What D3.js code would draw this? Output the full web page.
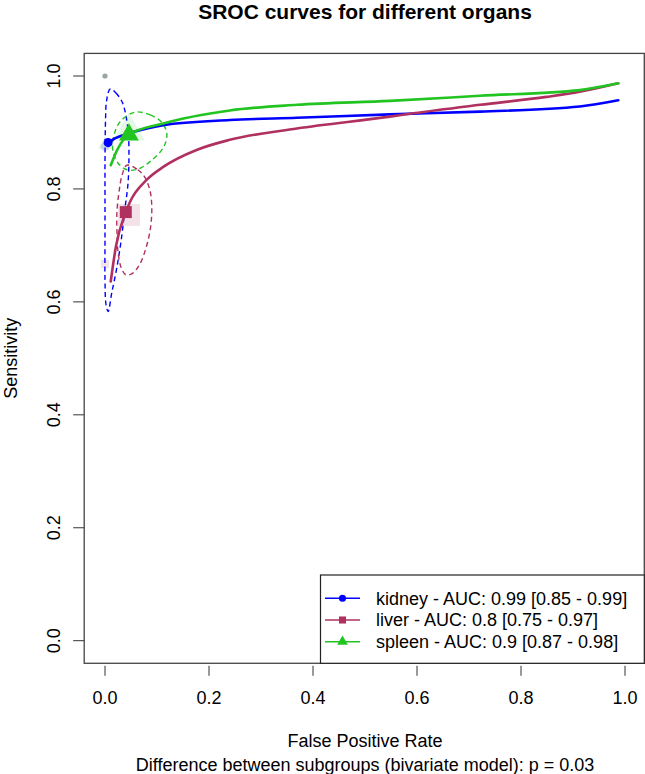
<!DOCTYPE html>
<html lang="en">
<head>
<meta charset="utf-8">
<title>SROC curves for different organs</title>
<script src="https://d3js.org/d3.v7.min.js"></script>
<style>
  body { margin: 0; background: #fff; }
  text { font-family: "Liberation Sans", Arial, Helvetica, sans-serif; fill: #000; }
</style>
</head>
<body>
<script>
// ---- data ----
var xTicks = [0, 0.2, 0.4, 0.6, 0.8, 1.0];
var yTicks = [0, 0.2, 0.4, 0.6, 0.8, 1.0];

var groups = ["kidney", "liver", "spleen"];
var aucLabels = [
  "kidney - AUC: 0.99 [0.85 - 0.99]",
  "liver - AUC: 0.8 [0.75 - 0.97]",
  "spleen - AUC: 0.9 [0.87 - 0.98]"
];

// SROC curves [fpr, sens]
var kidneyCurve = [[0.006, 0.882], [0.02, 0.890], [0.048, 0.899], [0.112, 0.913], [0.240, 0.922],
  [0.369, 0.926], [0.548, 0.932], [0.721, 0.937], [0.913, 0.946], [0.987, 0.957]];
var liverCurve = [[0.011, 0.636], [0.021, 0.698], [0.040, 0.759], [0.048, 0.777], [0.080, 0.816],
  [0.112, 0.839], [0.176, 0.869], [0.240, 0.887], [0.369, 0.907], [0.548, 0.928], [0.593, 0.934],
  [0.721, 0.949], [0.849, 0.963], [0.913, 0.972], [0.987, 0.987]];
var spleenCurve = [[0.011, 0.842], [0.025, 0.872], [0.046, 0.896], [0.112, 0.916], [0.240, 0.939],
  [0.369, 0.949], [0.548, 0.956], [0.721, 0.965], [0.913, 0.975], [0.987, 0.987]];

// summary points
var summaryPts = [[0.006, 0.882], [0.040, 0.759], [0.046, 0.896]];

// confidence regions (dashed)
var kidneyRegion = [[0.010, 0.977], [0.021, 0.970], [0.033, 0.954], [0.040, 0.931], [0.045, 0.896],
  [0.046, 0.851], [0.044, 0.807], [0.038, 0.763], [0.032, 0.715], [0.023, 0.662], [0.013, 0.616],
  [0.006, 0.583], [0.002, 0.595], [0.000, 0.639], [0.000, 0.709], [0.000, 0.780], [0.000, 0.851],
  [0.001, 0.921], [0.003, 0.956]];
var liverRegion = [[0.042, 0.842], [0.063, 0.834], [0.077, 0.820], [0.087, 0.795], [0.090, 0.763],
  [0.087, 0.728], [0.079, 0.696], [0.067, 0.667], [0.052, 0.650], [0.040, 0.648], [0.031, 0.661],
  [0.025, 0.689], [0.023, 0.724], [0.023, 0.760], [0.027, 0.795], [0.033, 0.825]];
var spleenRegion = [[0.058, 0.936], [0.087, 0.931], [0.110, 0.917], [0.119, 0.896], [0.112, 0.873],
  [0.090, 0.851], [0.063, 0.835], [0.042, 0.834], [0.025, 0.846], [0.015, 0.869], [0.017, 0.894],
  [0.029, 0.919]];

// faint study points
var studyPts = [
  {g: 0, x: 0.000, y: 0.875, s: 9},
  {g: 1, x: 0.046, y: 0.754, s: 22},
  {g: 1, x: 0.000, y: 0.667, s: 8},
  {g: 2, x: 0.000, y: 0.878, s: 14},
  {g: 2, x: 0.046, y: 0.902, s: 32}
];
var greyPt = [0, 1.0];

var colors = ["#0000ff", "#b03060", "#22c422"];
var shapes = [d3.symbolCircle, d3.symbolSquare, d3.symbolTriangle];

// ---- layout ----
var w = 645, h = 774;
var x = d3.scaleLinear().domain([0, 1]).range([105, 625]);
var y = d3.scaleLinear().domain([0, 1]).range([640.7, 76]);
var plotLeft = x(-0.04), plotRight = Math.min(x(1.04), w - 0.7);
var plotTop = y(1.04), plotBottom = y(-0.04);
var midX = (plotLeft + x(1.04)) / 2;

var svg = d3.select("body").append("svg")
  .attr("width", w)
  .attr("height", h);

// title
svg.append("text")
  .attr("x", midX)
  .attr("y", 19)
  .attr("text-anchor", "middle")
  .attr("font-size", "21px")
  .attr("font-weight", "bold")
  .text("SROC curves for different organs");

// axes
var xAxis = svg.append("g");
xAxis.selectAll("line").data(xTicks).enter().append("line")
  .attr("x1", function(d) { return x(d); })
  .attr("x2", function(d) { return x(d); })
  .attr("y1", plotBottom + 2.5).attr("y2", plotBottom + 12.5)
  .attr("stroke", "#333");
xAxis.selectAll("text").data(xTicks).enter().append("text")
  .attr("x", function(d) { return x(d); })
  .attr("y", 704)
  .attr("text-anchor", "middle")
  .attr("font-size", "18px")
  .text(function(d) { return d.toFixed(1); });

var yAxis = svg.append("g");
yAxis.selectAll("line").data(yTicks).enter().append("line")
  .attr("x1", plotLeft - 11).attr("x2", plotLeft)
  .attr("y1", function(d) { return y(d); })
  .attr("y2", function(d) { return y(d); })
  .attr("stroke", "#333");
yAxis.selectAll("text").data(yTicks).enter().append("text")
  .attr("transform", function(d) { return "translate(60," + y(d) + ") rotate(-90)"; })
  .attr("text-anchor", "middle")
  .attr("font-size", "18px")
  .text(function(d) { return d.toFixed(1); });

svg.append("text")
  .attr("x", midX)
  .attr("y", 747)
  .attr("text-anchor", "middle")
  .attr("font-size", "18px")
  .text("False Positive Rate");
svg.append("text")
  .attr("x", midX)
  .attr("y", 771)
  .attr("text-anchor", "middle")
  .attr("font-size", "18px")
  .text("Difference between subgroups (bivariate model): p = 0.03");
svg.append("text")
  .attr("transform", "translate(17," + ((plotTop + plotBottom) / 2) + ") rotate(-90)")
  .attr("text-anchor", "middle")
  .attr("font-size", "18px")
  .text("Sensitivity");

// faint study points
svg.selectAll(".study").data(studyPts).enter().append("path")
  .attr("class", "study")
  .attr("transform", function(d) { return "translate(" + x(d.x) + "," + y(d.y) + ")"; })
  .attr("d", function(d) {
    var a = d.g === 2 ? d.s * d.s * 0.433 : (d.g === 0 ? Math.PI * d.s * d.s / 4 : d.s * d.s);
    return d3.symbol().type(shapes[d.g]).size(a)();
  })
  .attr("fill", function(d) { return colors[d.g]; })
  .attr("fill-opacity", function(d) { return d.g === 2 ? 0.12 : 0.14; });

svg.append("circle")
  .attr("cx", x(greyPt[0])).attr("cy", y(greyPt[1]))
  .attr("r", 2.6)
  .attr("fill", "#9aa5a5");

// confidence regions
var regionLine = d3.line()
  .x(function(d) { return x(d[0]); })
  .y(function(d) { return y(d[1]); })
  .curve(d3.curveCatmullRomClosed);
[kidneyRegion, liverRegion, spleenRegion].forEach(function(r, i) {
  svg.append("path")
    .attr("d", regionLine(r))
    .attr("fill", "none")
    .attr("stroke", colors[i])
    .attr("stroke-width", 1.4)
    .attr("stroke-dasharray", "5,3.5");
});

// SROC curves
var curveLine = d3.line()
  .x(function(d) { return x(d[0]); })
  .y(function(d) { return y(d[1]); })
  .curve(d3.curveMonotoneX);
[kidneyCurve, liverCurve, spleenCurve].forEach(function(c, i) {
  svg.append("path")
    .attr("d", curveLine(c))
    .attr("fill", "none")
    .attr("stroke", colors[i])
    .attr("stroke-width", 2.6)
    .attr("stroke-linecap", "round");
});

// summary points
var sumSizes = [64, 144, 170];
svg.selectAll(".summary").data(summaryPts).enter().append("path")
  .attr("class", "summary")
  .attr("transform", function(d) { return "translate(" + x(d[0]) + "," + y(d[1]) + ")"; })
  .attr("d", function(d, i) { return d3.symbol().type(shapes[i]).size(sumSizes[i])(); })
  .attr("fill", function(d, i) { return colors[i]; });

// plot box
svg.append("rect")
  .attr("x", plotLeft).attr("y", plotTop)
  .attr("width", plotRight - plotLeft).attr("height", plotBottom - plotTop)
  .attr("fill", "none")
  .attr("stroke", "#444")
  .attr("stroke-width", 1.3);

// legend
var lg = svg.append("g");
lg.append("rect")
  .attr("x", 320.5).attr("y", 575)
  .attr("width", plotRight - 320.5).attr("height", plotBottom - 575)
  .attr("fill", "#fff")
  .attr("stroke", "#222")
  .attr("stroke-width", 1.2);
var rows = lg.selectAll(".row").data(groups).enter().append("g")
  .attr("class", "row")
  .attr("transform", function(d, i) { return "translate(0," + (598.3 + i * 21.7) + ")"; });
rows.append("line")
  .attr("x1", 325).attr("x2", 360)
  .attr("stroke", function(d, i) { return colors[i]; })
  .attr("stroke-width", 1.5);
rows.append("path")
  .attr("transform", "translate(342.5,0)")
  .attr("d", function(d, i) { return d3.symbol().type(shapes[i]).size([40, 50, 50][i])(); })
  .attr("fill", function(d, i) { return colors[i]; });
rows.append("text")
  .attr("x", 376)
  .attr("y", 6.3)
  .attr("font-size", "18px")
  .text(function(d, i) { return aucLabels[i]; });
</script>
</body>
</html>
